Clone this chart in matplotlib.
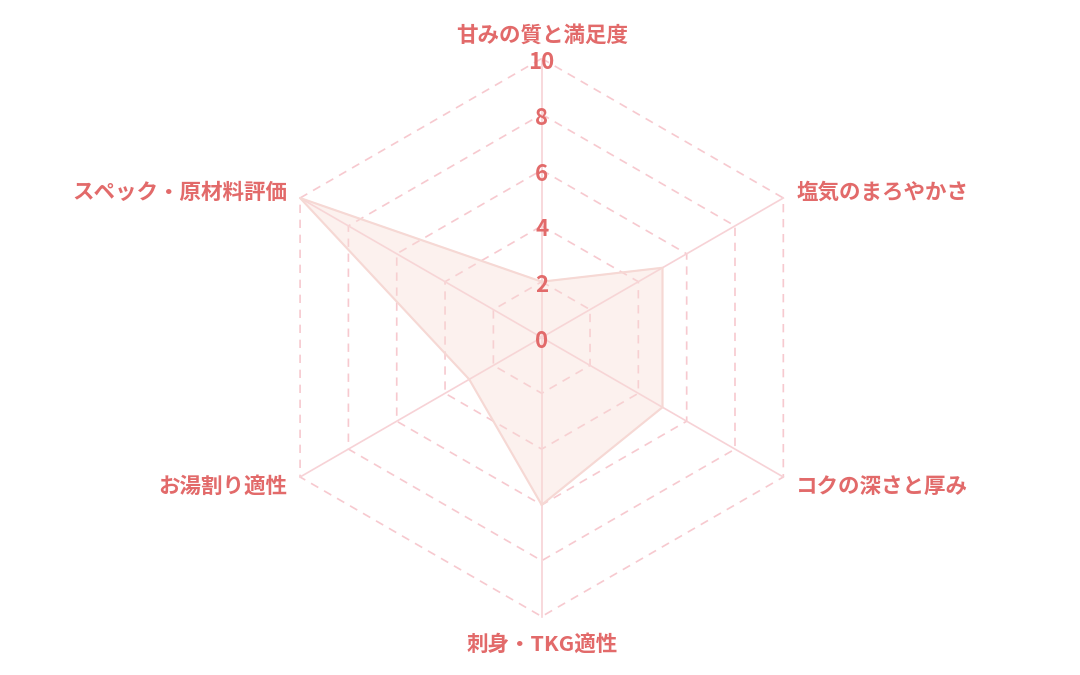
import numpy as np
import matplotlib.pyplot as plt

plt.rcParams['font.family'] = ['Noto Sans CJK JP', 'DejaVu Sans']

categories = ['甘みの質と満足度', '塩気のまろやかさ', 'コクの深さと厚み',
              '刺身・TKG適性', 'お湯割り適性', 'スペック・原材料評価']
values = [2, 5, 5, 6, 3, 10]
ticks = [0, 2, 4, 6, 8, 10]

label_color = '#e26a6a'
grid_color = '#f7c9cf'
spoke_color = '#f7d2d6'

# layout: 1 data unit = px_per_unit pixels
W, H, dpi = 1080, 675, 100
px_per_unit = 27.9
cx, cy = 541.7, 337.5

fig = plt.figure(figsize=(W / dpi, H / dpi), dpi=dpi)
ax = fig.add_axes([0, 0, 1, 1])
ax.set_xlim(-cx / px_per_unit, (W - cx) / px_per_unit)
ax.set_ylim(-(H - cy) / px_per_unit, cy / px_per_unit)
ax.axis('off')

n = len(categories)
angles = np.deg2rad(90 - 360 / n * np.arange(n))
ux, uy = np.cos(angles), np.sin(angles)

# rings
for r in ticks[1:]:
    ax.plot(np.append(r * ux, r * ux[0]), np.append(r * uy, r * uy[0]),
            color=grid_color, lw=1.2, ls=(0, (5, 4)), zorder=1)
# spokes
rmax = ticks[-1]
for x, y in zip(ux, uy):
    ax.plot([0, rmax * x], [0, rmax * y], color=spoke_color, lw=1.2, zorder=1)

# data polygon
v = np.array(values, dtype=float)
px = np.append(v * ux, v[0] * ux[0])
py = np.append(v * uy, v[0] * uy[0])
ax.fill(px, py, color='#f8dcd6', alpha=0.4, zorder=2)
ax.plot(px, py, color='#f6d8d4', lw=1.5, zorder=3)

# category labels
gap = rmax + 15 / px_per_unit
nudge = 2 / px_per_unit
for name, x, y in zip(categories, ux, uy):
    if abs(x) < 1e-6:
        ha, va = 'center', ('bottom' if y > 0 else 'top')
    else:
        ha, va = ('left' if x > 0 else 'right'), 'center'
    ax.text(gap * x, gap * y - nudge, name, ha=ha, va=va, color=label_color,
            fontsize=15.5, fontweight='bold', zorder=5)

# tick labels on the top axis
tick_nudge = 4 / px_per_unit
for t in ticks:
    ax.text(0, t - tick_nudge, str(t), ha='center', va='center', color=label_color,
            fontsize=16, fontweight='bold', zorder=6)

fig.savefig('out.png', dpi=dpi, facecolor='white')
